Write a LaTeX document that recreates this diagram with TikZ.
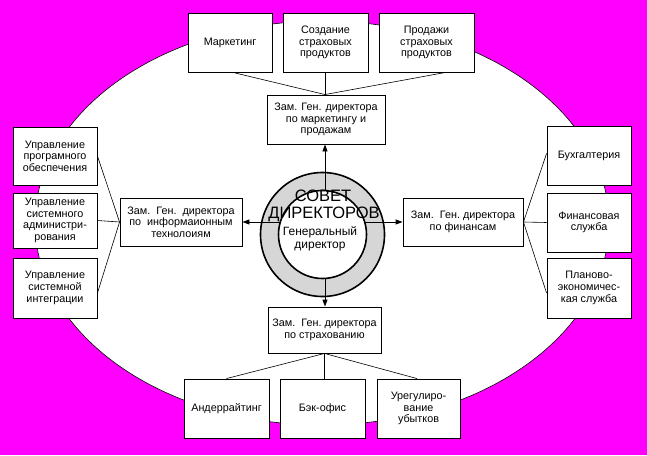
\documentclass[tikz,border=0pt]{standalone}
\usepackage{fontspec}
\setmainfont{Liberation Sans}
\usetikzlibrary{arrows.meta,calc}
\definecolor{bgmag}{HTML}{FF00FF}
\definecolor{ringgray}{HTML}{D6D6D6}
\tikzset{
  box/.style={draw=black, line width=0.9pt, fill=white, inner sep=0pt, align=center,
    font=\fontsize{10.8}{11.6}\selectfont},
  link/.style={draw=black, line width=0.6pt},
  arr/.style={draw=black, line width=0.9pt, -{Triangle[length=7pt,width=5pt]}},
  bigtxt/.style={inner sep=0pt, font=\fontsize{16.5}{18}\selectfont},
  midtxt/.style={inner sep=0pt, font=\fontsize{12}{13}\selectfont},
}
\begin{document}
\begin{tikzpicture}[x=1pt,y=-1pt]
\useasboundingbox (0,0) rectangle (647,455);
\fill[bgmag] (0,0) rectangle (647,455);
\draw[fill=white, line width=0.6pt] (322,223) ellipse [x radius=287, y radius=202];

% top group
\node[box, minimum width=84pt, minimum height=59pt] (mk) at (230,42.5) {Маркетинг};
\node[box, minimum width=85pt, minimum height=59pt] (sz) at (325.5,42.5) {Создание\\страховых\\продуктов};
\node[box, minimum width=95pt, minimum height=59pt] (pr) at (426.5,42.5) {Продажи\\страховых\\продуктов};
\node[box, minimum width=118pt, minimum height=49pt] (zm) at (326,119.5) {Зам. Ген. директора\\по маркетингу и\\продажам};

% left group
\node[box, minimum width=84pt, minimum height=58pt] (l1) at (55,156) {Управление\\програмного\\обеспечения};
\node[box, minimum width=84pt, minimum height=55pt] (l2) at (55,220.5) {Управление\\системного\\администри-\\рования};
\node[box, minimum width=84pt, minimum height=60pt] (l3) at (55,288) {Управление\\системной\\интеграции};
\node[box, minimum width=122pt, minimum height=48pt] (zi) at (181,222) {Зам.\ \ Ген.\ \ директора\\по\ \ информаионным\\технолоиям};

% right group
\node[box, minimum width=120pt, minimum height=48pt] (zf) at (463,222) {Зам.\ \ Ген.\ директора\\по финансам};
\node[box, minimum width=84pt, minimum height=59pt] (r1) at (589,155.5) {Бухгалтерия};
\node[box, minimum width=84pt, minimum height=59pt] (r2) at (589,222.5) {Финансовая\\служба};
\node[box, minimum width=84pt, minimum height=60pt] (r3) at (589,288) {Планово-\\экономичес-\\кая служба};

% bottom group
\node[box, minimum width=113pt, minimum height=46pt] (zs) at (324.5,330) {Зам.\ \ Ген.\ директора\\по страхованию};
\node[box, minimum width=85pt, minimum height=59pt] (b1) at (226.5,408.5) {Андеррайтинг};
\node[box, minimum width=85pt, minimum height=59pt] (b2) at (322.5,408.5) {Бэк-офис};
\node[box, minimum width=83pt, minimum height=59pt] (b3) at (418.5,408.5) {Урегулиро-\\вание\\убытков};

% connectors
\draw[link] ([xshift=3pt]mk.south) -- ([xshift=-1pt]zm.north);
\draw[link] ([xshift=-0.5pt]sz.south) -- ([xshift=-1pt]zm.north);
\draw[link] ([xshift=-29pt]pr.south east) -- ([xshift=-1pt]zm.north);

\draw[link] (zi.west) -- (l1.east);
\draw[link] (zi.west) -- (l2.east);
\draw[link] (zi.west) -- ([yshift=-5pt]l3.east);

\draw[link] (zf.east) -- ([yshift=2pt]r1.west);
\draw[link] (zf.east) -- (r2.west);
\draw[link] (zf.east) -- ([yshift=-5pt]r3.west);

\draw[link] (zs.south) -- (b1.north);
\draw[link] (zs.south) -- ([xshift=2pt]b2.north);
\draw[link] (zs.south) -- ([xshift=-1.5pt]b3.north);

% centre
\coordinate (cc) at (322.5,234.5);
\coordinate (hub) at (325,222);
\draw[fill=ringgray, line width=1.6pt] (cc) circle [radius=62];
\draw[arr] (hub) -- (hub |- zm.south);
\draw[arr] (hub) -- (hub -| zi.east);
\draw[arr] (hub) -- (hub -| zf.west);
\draw[arr] (hub) -- (hub |- zs.north);
\draw[fill=white, line width=1.6pt] (cc) circle [radius=44];
\node[bigtxt] (sov) at (323,196) {СОВЕТ};
\node[bigtxt] (dir) at (324,214.5) {ДИРЕКТОРОВ};
\node[midtxt] (gen) at (320,232) {Генеральный};
\node[midtxt] (gd) at (320,247) {директор};
\end{tikzpicture}
\end{document}
